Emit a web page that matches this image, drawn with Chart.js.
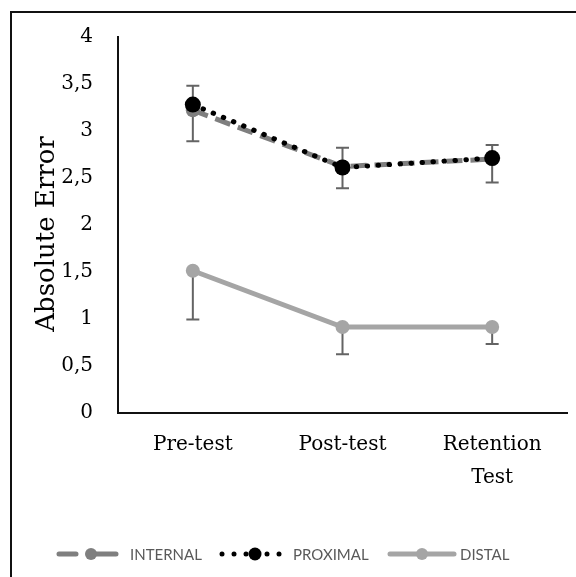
<!DOCTYPE html>
<html>
<head>
<meta charset="utf-8">
<script src="https://cdn.jsdelivr.net/npm/chart.js@4.4.1/dist/chart.umd.min.js"></script>
<style>
  html, body { margin: 0; padding: 0; background: #fff; }
  #wrap { width: 576px; height: 577px; position: relative; }
</style>
</head>
<body>
<div id="wrap"><canvas id="chart" width="576" height="577"></canvas></div>
<script>
// Chart data
const categories = ['Pre-test', 'Post-test', ['Retention', 'Test']];
const internal = [3.22, 2.62, 2.70];
const proximal = [3.28, 2.61, 2.71];
const distal = [1.51, 0.91, 0.91];

// Error bar ends
const internalHigh = [3.48, 2.82, 2.85];
const internalLow = [2.89, 2.39, 2.45];
const distalLow = [0.99, 0.62, 0.73];

const yTicks = [0, 0.5, 1, 1.5, 2, 2.5, 3, 3.5, 4];

const serif = '"DejaVu Serif", serif';

// Draws error bars, the frame, the axis title and the legend
const extrasPlugin = {
    id: 'extras',
    beforeDatasetsDraw(chart) {
        const ctx = chart.ctx;
        const x = chart.scales.x;
        const y = chart.scales.y;
        ctx.save();
        ctx.strokeStyle = '#646464';
        ctx.lineWidth = 2;
        const bar = (i, from, to) => {
            const px = x.getPixelForValue(i);
            const y1 = y.getPixelForValue(from);
            const y2 = y.getPixelForValue(to);
            ctx.beginPath();
            ctx.moveTo(px, y1);
            ctx.lineTo(px, y2);
            ctx.moveTo(px - 6.5, y2);
            ctx.lineTo(px + 6.5, y2);
            ctx.stroke();
        };
        categories.forEach((c, i) => {
            bar(i, internal[i], internalHigh[i]);
            bar(i, internal[i], internalLow[i]);
            bar(i, distal[i], distalLow[i]);
        });
        ctx.restore();
    },
    afterDraw(chart) {
        const ctx = chart.ctx;
        ctx.save();

        // outer frame (right and bottom edges are off the page)
        ctx.strokeStyle = '#111';
        ctx.lineWidth = 2;
        ctx.beginPath();
        ctx.moveTo(11, 577);
        ctx.lineTo(11, 12);
        ctx.lineTo(576, 12);
        ctx.stroke();

        // y axis title
        ctx.fillStyle = '#000';
        ctx.font = '26px ' + serif;
        ctx.textAlign = 'center';
        ctx.textBaseline = 'middle';
        ctx.translate(47, 234);
        ctx.rotate(-Math.PI / 2);
        ctx.fillText('Absolute Error', 0, 0);
        ctx.setTransform(1, 0, 0, 1, 0, 0);

        // legend
        const ly = 554;
        ctx.lineCap = 'round';
        ctx.font = '15px Lato, sans-serif';
        ctx.textAlign = 'left';
        ctx.textBaseline = 'middle';

        // INTERNAL
        ctx.strokeStyle = '#7f7f7f';
        ctx.lineWidth = 5;
        ctx.beginPath();
        ctx.moveTo(59, ly); ctx.lineTo(76, ly);
        ctx.moveTo(96, ly); ctx.lineTo(116, ly);
        ctx.stroke();
        ctx.fillStyle = '#7f7f7f';
        ctx.beginPath(); ctx.arc(91, ly, 6, 0, Math.PI * 2); ctx.fill();
        ctx.fillStyle = '#595959';
        ctx.fillText('INTERNAL', 130, ly + 1);

        // PROXIMAL
        ctx.fillStyle = '#000';
        [222, 234, 246, 267, 279].forEach(px => {
            ctx.beginPath(); ctx.arc(px, ly, 2.5, 0, Math.PI * 2); ctx.fill();
        });
        ctx.beginPath(); ctx.arc(255, ly, 6.5, 0, Math.PI * 2); ctx.fill();
        ctx.fillStyle = '#595959';
        ctx.fillText('PROXIMAL', 293, ly + 1);

        // DISTAL
        ctx.strokeStyle = '#a5a5a5';
        ctx.beginPath();
        ctx.moveTo(390, ly); ctx.lineTo(454, ly);
        ctx.stroke();
        ctx.fillStyle = '#a5a5a5';
        ctx.beginPath(); ctx.arc(422, ly, 6, 0, Math.PI * 2); ctx.fill();
        ctx.fillStyle = '#595959';
        ctx.fillText('DISTAL', 460, ly + 1);

        ctx.restore();
    }
};

const ctx = document.getElementById('chart').getContext('2d');

new Chart(ctx, {
    type: 'line',
    data: {
        labels: categories,
        datasets: [
            {
                label: 'DISTAL',
                data: distal,
                borderColor: '#a5a5a5',
                backgroundColor: '#a5a5a5',
                borderWidth: 5,
                pointRadius: 7,
                pointBorderWidth: 0,
                order: 3
            },
            {
                label: 'INTERNAL',
                data: internal,
                borderColor: '#7f7f7f',
                backgroundColor: '#7f7f7f',
                borderWidth: 5,
                borderDash: [16, 8],
                pointRadius: 7,
                pointBorderWidth: 0,
                order: 2
            },
            {
                label: 'PROXIMAL',
                data: proximal,
                borderColor: '#000',
                backgroundColor: '#000',
                borderWidth: 5,
                borderDash: [0.5, 10.5],
                borderCapStyle: 'round',
                pointRadius: 8,
                pointBorderWidth: 0,
                order: 1
            }
        ]
    },
    options: {
        responsive: false,
        animation: false,
        layout: {
            padding: { top: 33, right: 9, bottom: 0, left: 0 }
        },
        plugins: {
            legend: { display: false },
            tooltip: { enabled: false }
        },
        scales: {
            x: {
                offset: true,
                grid: { display: false, drawTicks: false },
                border: { display: true, color: '#111', width: 2 },
                ticks: {
                    color: '#000',
                    padding: 16,
                    maxRotation: 0,
                    font: { family: serif, size: 20, lineHeight: 1.65 }
                },
                afterFit(scale) {
                    scale.height = 164.5;
                }
            },
            y: {
                min: 0,
                max: 4,
                grid: { display: false, drawTicks: false },
                border: { display: true, color: '#111', width: 2 },
                afterBuildTicks(scale) {
                    scale.ticks = yTicks.map(v => ({ value: v }));
                },
                ticks: {
                    color: '#000',
                    padding: 25,
                    font: { family: serif, size: 20 },
                    callback: v => String(v).replace('.', ',')
                },
                afterFit(scale) {
                    scale.width = 118;
                }
            }
        }
    },
    plugins: [extrasPlugin]
});
</script>
</body>
</html>
